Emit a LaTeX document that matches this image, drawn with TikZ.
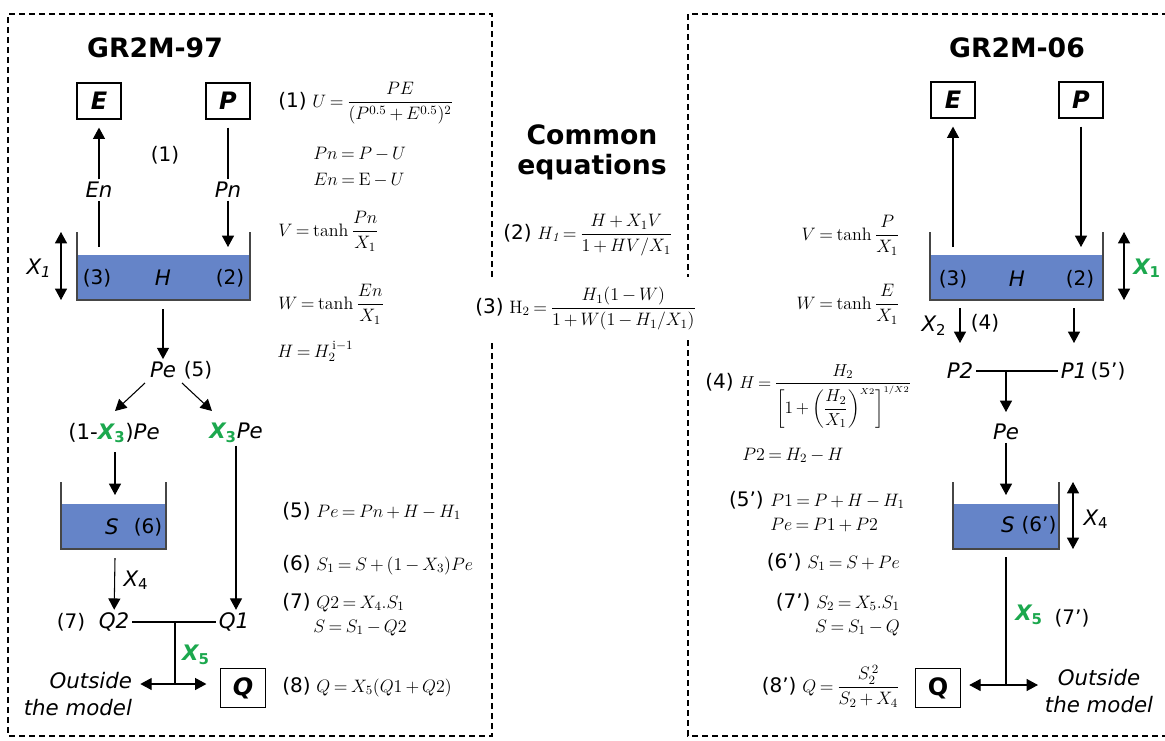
\RequirePackage{fix-cm}
\documentclass[tikz,border=0pt]{standalone}
\usepackage{amsmath}
\usepackage{fontspec}
\setsansfont{DejaVu Sans}
\usetikzlibrary{arrows.meta}
\definecolor{tankblue}{RGB}{101,132,200}
\definecolor{pgreen}{RGB}{28,168,78}
\definecolor{wallgray}{RGB}{70,70,70}
\thickmuskip=3.5mu plus 2mu
\medmuskip=3mu plus 1mu
\newcommand\gX[1]{{\color{pgreen}\bfseries\itshape X\textsubscript{\upshape #1}}}
\newcommand\eqn[1]{{\sffamily\fontsize{15}{17}\selectfont #1}\ }
\tikzset{
  lab/.style={font=\sffamily\itshape\fontsize{16}{20}\selectfont, inner sep=2pt},
  num/.style={font=\sffamily\fontsize{15}{18}\selectfont, inner sep=1pt},
  inbox/.style={draw, line width=0.9pt, minimum width=33pt, minimum height=27pt, inner sep=0pt,
     font=\sffamily\bfseries\itshape\fontsize{18}{20}\selectfont},
  ttl/.style={font=\sffamily\bfseries\fontsize{20}{22.5}\selectfont, align=center},
  eq/.style={font=\fontsize{13.5}{17}\selectfont, inner sep=0pt, anchor=base west},
  eqr/.style={font=\fontsize{13.5}{17}\selectfont, inner sep=0pt, anchor=base east},
  arr/.style={line width=0.8pt, -{Triangle[length=8.5pt,width=9pt]}},
  dbl/.style={line width=0.8pt, {Triangle[length=8.5pt,width=9pt]}-{Triangle[length=8.5pt,width=9pt]}},
  ln/.style={line width=0.8pt},
  frame/.style={line width=1.6pt, dash pattern=on 4.5pt off 3pt},
  wall/.style={line width=0.9pt, draw=wallgray},
}
\begin{document}
\begin{tikzpicture}[x=0.75pt,y=-0.75pt]
\useasboundingbox (0,0) rectangle (1165,740);

% ---------------- frames
\draw[frame] (492,277) -- (492,14) -- (8,14) -- (8,736) -- (492,736) -- (492,340);
\draw[frame] (1168,14) -- (688,14) -- (688,277);
\draw[frame] (688,340) -- (688,736) -- (1168,736);

% ================= GR2M-97 =================
\node[ttl] (t97) at (155,48) {GR2M-97};
\node[inbox] (E1) at (99,101) {E};
\node[inbox] (P1b) at (228,101) {P};
\node[num] (n1) at (165,155) {(1)};
\node[lab] (En1) at (99,190) {En};
\node[lab] (Pn1) at (228,190) {Pn};
% tank H
\fill[tankblue] (77,255) rectangle (250,300);
\draw[wall] (77,232) -- (77,300) -- (250,300) -- (250,232);
\node[num] (h3a) at (97,278) {(3)};
\node[lab] (Ha) at (163,278) {H};
\node[num] (h2a) at (230,278) {(2)};
\coordinate (Hout1) at (99,247);
\coordinate (Hin1) at (228,247);
\draw[ln] (Hout1) -- (En1);
\draw[arr, shorten >=6pt] (En1) -- (E1);
\draw[ln, shorten <=6pt] (P1b) -- (Pn1);
\draw[arr] (Pn1) -- (Hin1);
% X1
\coordinate (x1a) at (61,232);
\coordinate (x1b) at (61,300);
\draw[dbl] (x1a) -- (x1b);
\node[lab] (X1a) at (39,268) {X\textsubscript{1}};
% Pe
\coordinate (Hbot1) at (163,309);
\node[lab] (Pe1) at (163,370) {Pe};
\node[num] (n5) at (198,370) {(5)};
\draw[arr] (Hbot1) -- (Pe1);
\coordinate (d1a) at (145,383);
\coordinate (d1b) at (115,411);
\coordinate (d2a) at (182,383);
\coordinate (d2b) at (212,411);
\draw[arr] (d1a) -- (d1b);
\draw[arr] (d2a) -- (d2b);
\node[lab] (Lpe) at (114,433) {\upshape(1-\gX{3})\itshape Pe};
\node[lab] (Rpe) at (236,433) {\gX{3}Pe};
% tank S
\fill[tankblue] (61,504) rectangle (166,549);
\draw[wall] (61,482) -- (61,549) -- (166,549) -- (166,482);
\node[lab] (Sa) at (112,527) {S};
\node[num] (n6) at (148,527) {(6)};
\coordinate (Sin1) at (115,495);
\coordinate (Sout1) at (115,452);
\draw[arr] (Sout1) -- (Sin1);
\coordinate (Sbot1) at (115,558);
\node[lab] (Q2a) at (114,622) {Q2};
\node[num] (n7) at (71,622) {(7)};
\node[lab] (Q1a) at (234,622) {Q1};
\draw[arr] (Sbot1) -- (Q2a);
\node[lab] (X4a) at (136,580) {X\textsubscript{\upshape 4}};
\draw[arr] (Rpe.south) -- (Rpe.south |- Q1a.north);
\draw[ln] (Q2a) -- (Q1a);
\coordinate (J1) at (175,622);
\coordinate (J1b) at (175,684);
\draw[ln] (J1) -- (J1b);
\node[lab] (X5a) at (196,655) {\gX{5}};
\node[lab, align=right, anchor=east] (out1) at (135,694) {Outside\\the model};
\node[inbox, minimum width=34pt, minimum height=29pt] (Qa) at (243,688) {Q};
\draw[arr, shorten >=4pt] (J1b) -- (out1.east |- J1b);
\draw[arr, shorten >=10pt] (J1b) -- (Qa.west |- J1b);

% equations GR2M-97
\node[eq] (e1) at (278,107) {\eqn{(1)}$U=\dfrac{PE}{(P^{0.5}+E^{0.5})^2}$};
\node[eq] (e1b) at (313,159) {$Pn = P - U$};
\node[eq] (e1c) at (313,185) {$En = \mathrm{E} - U$};
\node[eq] (eV1) at (278,236) {$V=\tanh\dfrac{Pn}{X_1}$};
\node[eq] (eW1) at (278,309) {$W=\tanh\dfrac{En}{X_1}$};
\node[eq] (eH1) at (277,357) {$H = H_2^{\;\mathrm{i-1}}$};
\node[eq] (e5) at (282,517) {\eqn{(5)}$Pe = Pn + H - H_1$};
\node[eq] (e6) at (282,570) {\eqn{(6)}$S_1 = S + (1 - X_3)Pe$};
\node[eq] (e7) at (282,608) {\eqn{(7)}$Q2 = X_4.S_1$};
\node[eq] (e7b) at (313,632) {$S = S_1 - Q2$};
\node[eq] (e8) at (282,692) {\eqn{(8)}$Q = X_5(Q1+Q2)$};

% ================= common =================
\node[ttl] (tc) at (592,152) {Common\\equations};
\node[eq] (e2) at (503,239) {\eqn{(2)}$H_{\mathit{1}} = \dfrac{H + X_1V}{1+HV/X_1}$};
\node[eq] (e3) at (475,313) {\eqn{(3)}$\mathrm{H}_2 = \dfrac{H_1(1-W)}{1+W(1-H_1/X_1)}$};

% ================= GR2M-06 =================
\node[ttl] (t06) at (1017,48) {GR2M-06};
\node[inbox] (E2) at (953,100) {E};
\node[inbox] (P2b) at (1081,100) {P};
\fill[tankblue] (930,255) rectangle (1103,300);
\draw[wall] (930,232) -- (930,300) -- (1103,300) -- (1103,232);
\node[num] (h3b) at (953,279) {(3)};
\node[lab] (Hb) at (1017,279) {H};
\node[num] (h2b) at (1080,279) {(2)};
\coordinate (Hout2) at (953,247);
\coordinate (Hin2) at (1081,247);
\draw[arr, shorten >=6pt] (Hout2) -- (E2);
\draw[arr, shorten <=6pt] (P2b) -- (Hin2);
\coordinate (x1c) at (1124,232);
\coordinate (x1d) at (1124,300);
\draw[dbl] (x1c) -- (x1d);
\node[lab] (X1b) at (1147,268) {\gX{1}};
% outflows of H
\coordinate (Hb1) at (960,308);
\coordinate (Hb1e) at (960,343);
\coordinate (Hb2) at (1074,308);
\coordinate (Hb2e) at (1074,343);
\draw[arr] (Hb1) -- (Hb1e);
\draw[arr] (Hb2) -- (Hb2e);
\node[lab] (X2b) at (934,326) {X\textsubscript{\upshape 2}};
\node[num] (n4) at (985,323) {(4)};
\node[lab] (P2n) at (960,371) {P2};
\node[lab] (P1n) at (1074,371) {P1};
\node[num] (n5p) at (1108,371) {(5')};
\draw[ln] (P2n) -- (P1n);
\coordinate (J2a) at (1006,371);
\coordinate (J2b) at (1006,412);
\draw[arr] (J2a) -- (J2b);
\node[lab] (Pe2) at (1006,432) {Pe};
\coordinate (Sin2) at (1006,495);
\draw[arr] (Pe2) -- (Sin2);
% tank S
\fill[tankblue] (953,504) rectangle (1059,549);
\draw[wall] (953,482) -- (953,549) -- (1059,549) -- (1059,482);
\node[lab] (Sb) at (1008,525) {S};
\node[num] (n6p) at (1039,525) {(6')};
\coordinate (x4a) at (1073,482);
\coordinate (x4b) at (1073,549);
\draw[dbl] (x4a) -- (x4b);
\node[lab] (X4b) at (1096,519) {X\textsubscript{\upshape 4}};
\coordinate (Sbot2) at (1006,557);
\coordinate (J3) at (1006,685);
\draw[ln] (Sbot2) -- (J3);
\node[lab] (X5b) at (1029,615) {\gX{5}};
\node[num] (n7p) at (1072,618) {(7')};
\node[inbox, minimum width=34pt, minimum height=29pt, font=\sffamily\bfseries\fontsize{18}{20}\selectfont] (Qb) at (938,688) {Q};
\node[lab, align=center] (out2) at (1099,691) {Outside\\the model};
\draw[arr, shorten >=6pt] (J3) -- (Qb.east |- J3);
\draw[arr, shorten >=3pt] (J3) -- (out2.west |- J3);

% equations GR2M-06
\node[eqr] (eV2) at (900,240) {$V=\tanh\dfrac{P}{X_1}$};
\node[eqr] (eW2) at (900,309) {$W=\tanh\dfrac{E}{X_1}$};
\node[eq, font=\fontsize{13}{16}\selectfont] (e4) at (705,388) {\eqn{(4)}$H=\dfrac{H_2}{\left[1+\left(\dfrac{H_2}{X_1}\right)^{\scriptscriptstyle X2}\right]^{\scriptscriptstyle 1/X2}}$};
\node[eq] (eP2) at (742,460) {$P2 = H_2 - H$};
\node[eqr, font=\sffamily\fontsize{15}{17}\selectfont] (n5e) at (764,506) {(5')};
\node[eq] (e5p) at (770,506) {$P1 = P + H - H_1$};
\node[eq] (e5q) at (770,530) {$Pe = P1 + P2$};
\node[eqr] (e6p) at (900,568) {\eqn{(6')}$S_1 = S + Pe$};
\node[eqr] (e7p) at (900,608) {\eqn{(7')}$S_2 = X_5.S_1$};
\node[eqr] (e7q) at (900,632) {$S = S_1 - Q$};
\node[eqr] (e8p) at (900,692) {\eqn{(8')}$Q = \dfrac{S_2^{\,2}}{S_2+X_4}$};
\end{tikzpicture}
\end{document}
